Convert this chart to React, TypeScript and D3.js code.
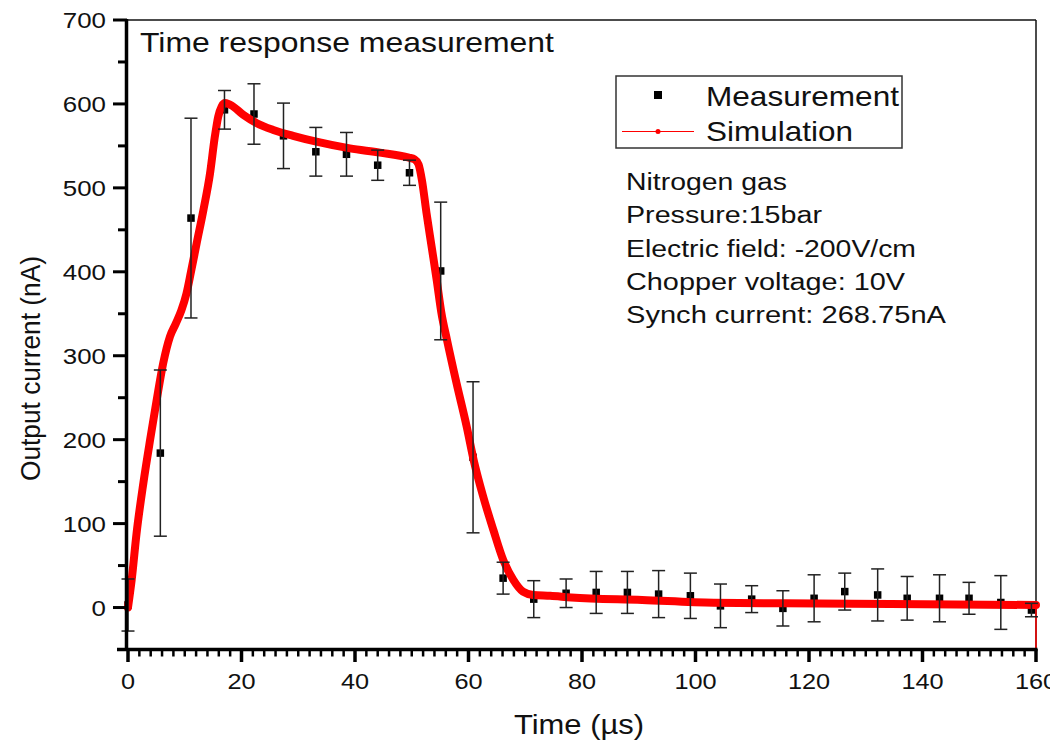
import React from 'react';
import * as d3 from 'd3';

// Measurement data (time in µs, current in nA, symmetric error in nA)
const measTime = [0, 5.7, 11.1, 17.0, 22.2, 27.4, 33.1, 38.5, 44.0, 49.6, 55.1, 60.8, 66.1, 71.5, 77.2, 82.5, 88.0, 93.5, 99.1, 104.4, 109.9, 115.4, 120.9, 126.3, 132.1, 137.3, 143.0, 148.2, 153.8, 159.2];
const measCurrent = [3, 184, 464, 593, 588, 562, 543, 540, 527, 518, 401, 179, 35, 10, 17, 18, 18, 16, 14, 2, 10, -1, 11, 19, 15, 11, 11, 11, 6, -3];
const measError = [31, 99, 119, 23, 36, 39, 29, 26, 18, 15, 82, 90, 19, 22, 17, 25, 25, 28, 27, 26, 16, 21, 28, 22, 31, 26, 28, 19, 32, 8];

// Simulation curve
const simTime = [0, 0.65, 1.5, 2.7, 3.9, 5.05, 6.2, 7.4, 8.4, 9.4, 10.3, 11.1, 12.1, 13.3, 14.45, 15.3, 15.9, 16.5, 17.1, 17.7, 18.3, 20.3, 22.7, 25.6, 29.1, 33.2, 39.1, 44.4, 49.5, 50.5, 51.2, 51.8, 52.6, 53.5, 54.4, 55.2, 56.2, 57.9, 59.7, 60.9, 62.6, 64.4, 66.1, 67.9, 69.6, 71.4, 74.4, 78.1, 90.6, 103.2, 115.7, 134.4, 160];
const simCurrent = [0, 33, 88, 148, 200, 247, 291, 323, 338, 354, 374, 400, 434, 474, 517, 561, 585, 597, 601, 600, 598, 587, 577, 569, 562, 555, 547, 542, 536, 534, 528, 509, 470, 430, 390, 352, 319, 267, 215, 176, 132, 92, 57, 33, 19, 15, 14, 12, 9, 5.7, 5, 4.2, 3];
// final drop of the simulated trace at the end of the window
const simDropTime = [160, 160];
const simDropCurrent = [3, -150];

const xTicks = [0, 20, 40, 60, 80, 100, 120, 140, 160];
const yTicks = [0, 100, 200, 300, 400, 500, 600, 700];
const infoLines = ['Nitrogen gas', 'Pressure:15bar', 'Electric field: -200V/cm', 'Chopper voltage: 10V', 'Synch current: 268.75nA'];
const infoWidths = [161, 196, 290, 279, 320];

const FONT = '"Liberation Sans", Arial, Helvetica, sans-serif';

export default function App() {
  const x = d3.scaleLinear().domain([0, 160]).range([128, 1036]);
  const y = d3.scaleLinear().domain([-50, 700]).range([649.5, 20]);

  const simPts = simTime.map((t, i) => [t, simCurrent[i]] as [number, number]);
  const dropPts = simDropTime.map((t, i) => [t, simDropCurrent[i]] as [number, number]);
  const line = d3.line<[number, number]>().x(d => x(d[0])).y(d => y(d[1])).curve(d3.curveMonotoneX);
  const lineLin = d3.line<[number, number]>().x(d => x(d[0])).y(d => y(d[1]));

  const xMinor = d3.range(0, 161, 2).filter(v => v % 20 !== 0);
  const yMinor = d3.range(-50, 701, 50).filter(v => v % 100 !== 0);

  const capW = 6.5;
  const sq = 7.5;

  return (
    <svg width={1050} height={743} style={{ position: 'absolute', left: 0, top: 0, background: '#fff' }} fontFamily={FONT}>
      <defs>
        <clipPath id="plotClip">
          <rect x={0} y={20} width={1050} height={629.5} />
        </clipPath>
      </defs>
      <rect x={0} y={0} width={1050} height={743} fill="#fff" />

      {/* frame top & right */}
      <line x1={126} x2={1036} y1={20} y2={20} stroke="#111" strokeWidth={1.5} />
      <line x1={1036} x2={1036} y1={20} y2={649.5} stroke="#111" strokeWidth={1.5} />

      {/* measurement squares */}
      {measTime.map((t, i) => (
        <rect key={'s' + i} x={x(t) - sq / 2} y={y(measCurrent[i]) - sq / 2} width={sq} height={sq} fill="#000" />
      ))}

      {/* simulation */}
      <g clipPath="url(#plotClip)">
        <path d={line(simPts) || ''} fill="none" stroke="#ff0000" strokeWidth={8} strokeLinejoin="round" strokeLinecap="round" />
        <path d={lineLin(dropPts) || ''} fill="none" stroke="#ff0000" strokeWidth={1.5} />
      </g>

      {/* error bars */}
      {measTime.map((t, i) => {
        const cx = x(t);
        const y1 = y(measCurrent[i] + measError[i]);
        const y2 = y(measCurrent[i] - measError[i]);
        return (
          <g key={'e' + i} stroke="#222" strokeWidth={1.5}>
            <line x1={cx} x2={cx} y1={y1} y2={y2} />
            <line x1={cx - capW} x2={cx + capW} y1={y1} y2={y1} />
            <line x1={cx - capW} x2={cx + capW} y1={y2} y2={y2} />
          </g>
        );
      })}

      {/* axes */}
      <line x1={126.5} x2={126.5} y1={19} y2={651} stroke="#000" strokeWidth={3.5} />
      <line x1={117} x2={1037.5} y1={649.5} y2={649.5} stroke="#000" strokeWidth={3.5} />
      {yTicks.map(v => (
        <line key={'yt' + v} x1={113} x2={127} y1={y(v)} y2={y(v)} stroke="#000" strokeWidth={3} />
      ))}
      {yMinor.map(v => (
        <line key={'ym' + v} x1={118} x2={127} y1={y(v)} y2={y(v)} stroke="#000" strokeWidth={3} />
      ))}
      {xTicks.map(v => (
        <line key={'xt' + v} x1={x(v)} x2={x(v)} y1={649} y2={662} stroke="#000" strokeWidth={3.5} />
      ))}
      {xMinor.map(v => (
        <line key={'xm' + v} x1={x(v)} x2={x(v)} y1={649} y2={656.5} stroke="#000" strokeWidth={2.5} />
      ))}

      {/* tick labels */}
      {yTicks.map(v => (
        <text key={'yl' + v} transform={`translate(106,${y(v) + 8}) scale(1.15,1)`} textAnchor="end" fontSize={22.5} fill="#111">{v}</text>
      ))}
      {xTicks.map(v => (
        <text key={'xl' + v} transform={`translate(${x(v)},${689}) scale(1.15,1)`} textAnchor="middle" fontSize={22} fill="#111">{v}</text>
      ))}

      {/* axis titles */}
      <text x={514} y={734} fontSize={28} textLength={130} lengthAdjust="spacingAndGlyphs" fill="#111">Time (µs)</text>
      <text transform="translate(40,481) rotate(-90)" fontSize={28} textLength={225} lengthAdjust="spacingAndGlyphs" fill="#111">Output current (nA)</text>

      {/* title */}
      <text x={140} y={52} fontSize={28} textLength={414} lengthAdjust="spacingAndGlyphs" fill="#111">Time response measurement</text>

      {/* legend */}
      <rect x={616} y={76} width={286} height={72} fill="none" stroke="#333" strokeWidth={1.5} />
      <rect x={658 - 4} y={95 - 4} width={8} height={8} fill="#000" />
      <text x={706} y={106} fontSize={28} textLength={193} lengthAdjust="spacingAndGlyphs" fill="#111">Measurement</text>
      <line x1={622} x2={694} y1={131.5} y2={131.5} stroke="#ff0000" strokeWidth={1.2} />
      <circle cx={658} cy={131.5} r={2.5} fill="#ff0000" />
      <text x={706} y={141} fontSize={28} textLength={147} lengthAdjust="spacingAndGlyphs" fill="#111">Simulation</text>

      {/* info text */}
      {infoLines.map((s, i) => (
        <text key={'in' + i} x={626} y={190 + i * 33.3} fontSize={23} textLength={infoWidths[i]} lengthAdjust="spacingAndGlyphs" fill="#111">{s}</text>
      ))}
    </svg>
  );
}
